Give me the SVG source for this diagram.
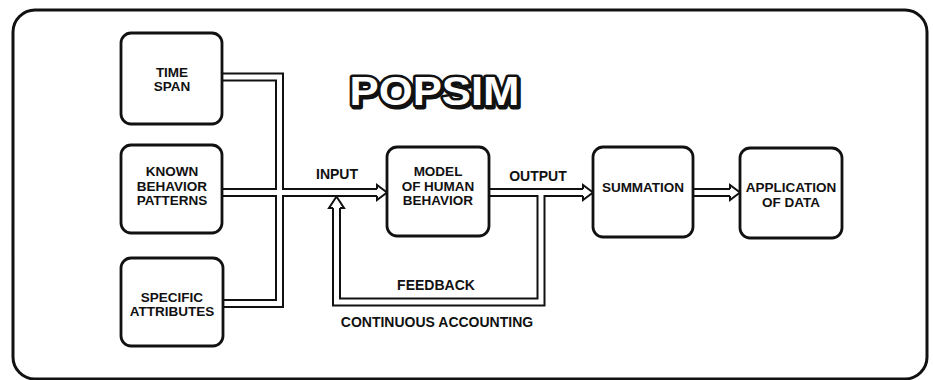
<svg xmlns="http://www.w3.org/2000/svg" width="933" height="380" viewBox="0 0 933 380">
<style>
.frame{fill:#fff;stroke:#111;stroke-width:3}
.box{fill:#fff;stroke:#111;stroke-width:2.8}
.pb{fill:none;stroke:#111;stroke-width:9;stroke-linejoin:miter}
.pw{fill:none;stroke:#fff;stroke-width:5;stroke-linejoin:miter}
.arr{fill:#fff;stroke:#111;stroke-width:2;stroke-linejoin:miter}
.t{font-family:"Liberation Sans",Arial,sans-serif;font-weight:bold;font-size:13.5px;fill:#111;text-anchor:middle}
.lbl{font-family:"Liberation Sans",Arial,sans-serif;font-weight:bold;font-size:14px;fill:#111;text-anchor:middle}
.title{font-family:"Liberation Sans",Arial,sans-serif;font-weight:bold;font-size:40px;text-anchor:middle}
</style>
<rect class="frame" x="13" y="10" width="914" height="369" rx="22"/>
<g id="title">
<text class="title" x="436" y="106.5" textLength="170" lengthAdjust="spacingAndGlyphs" fill="#111" stroke="#111" stroke-width="5" stroke-linejoin="round">POPSIM</text>
<text class="title" x="434.5" y="105" textLength="170" lengthAdjust="spacingAndGlyphs" fill="#fff" stroke="#111" stroke-width="5" stroke-linejoin="round" paint-order="stroke">POPSIM</text>
</g>
<g id="connectors">
<path class="pb" d="M222,77 H279.5 V303.5 H223"/>
<path class="pb" d="M222,192.5 H378"/>
<path class="pb" d="M489,192.5 H584"/>
<path class="pb" d="M541,192.5 V302 H336.5 V207"/>
<path class="pb" d="M693,192.5 H731"/>
<path class="pw" d="M222,77 H279.5 V303.5 H223"/>
<path class="pw" d="M222,192.5 H378"/>
<path class="pw" d="M489,192.5 H584"/>
<path class="pw" d="M541,192.5 V302 H336.5 V207"/>
<path class="pw" d="M693,192.5 H731"/>
<path class="arr" d="M377,189 V185 L387,192.5 L377,200 V196"/>
<path class="arr" d="M583,189 V185 L593,192.5 L583,200 V196"/>
<path class="arr" d="M730,189 V185 L740,192.5 L730,200 V196"/>
<path class="arr" d="M333,208 H329 L336.5,196.5 L344,208 H340"/>
<text class="lbl" x="337" y="179">INPUT</text>
<text class="lbl" x="538" y="181">OUTPUT</text>
<text class="lbl" x="436" y="290">FEEDBACK</text>
<text class="lbl" x="437" y="327">CONTINUOUS ACCOUNTING</text>
</g>
<g id="time-span">
<rect class="box" x="121" y="33" width="101" height="91" rx="10"/>
<text class="t" x="172" y="77">TIME</text>
<text class="t" x="172" y="91">SPAN</text>
</g>
<g id="known-behavior">
<rect class="box" x="121" y="145" width="101" height="88" rx="10"/>
<text class="t" x="172" y="176">KNOWN</text>
<text class="t" x="172" y="190.5">BEHAVIOR</text>
<text class="t" x="172" y="205">PATTERNS</text>
</g>
<g id="specific-attributes">
<rect class="box" x="121" y="258" width="102" height="88" rx="10"/>
<text class="t" x="172" y="302">SPECIFIC</text>
<text class="t" x="172" y="316">ATTRIBUTES</text>
</g>
<g id="model">
<rect class="box" x="387" y="147" width="102" height="89" rx="10"/>
<text class="t" x="438" y="176">MODEL</text>
<text class="t" x="438" y="190.5">OF HUMAN</text>
<text class="t" x="438" y="205">BEHAVIOR</text>
</g>
<g id="summation">
<rect class="box" x="593" y="147" width="100" height="90" rx="10"/>
<text class="t" x="643" y="192">SUMMATION</text>
</g>
<g id="application">
<rect class="box" x="740" y="148" width="102" height="90" rx="10"/>
<text class="t" x="791" y="192">APPLICATION</text>
<text class="t" x="791" y="207">OF DATA</text>
</g>
</svg>
